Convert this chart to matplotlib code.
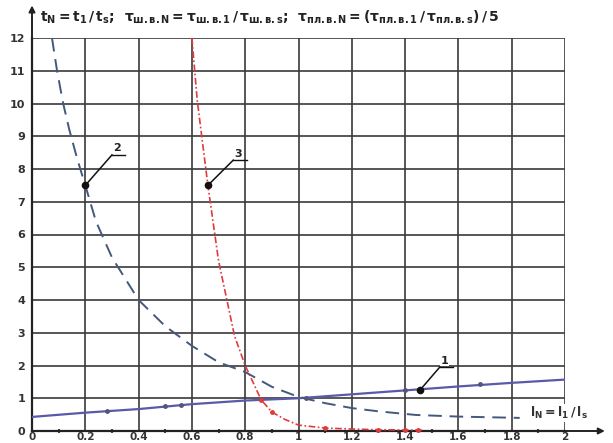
import numpy as np
from matplotlib import pyplot as plt

# curve 1 (solid)
c1_x = [0.0, 0.2, 0.4, 0.6, 0.8, 1.0, 1.2, 1.4, 1.6, 1.8, 2.0]
c1_y = [0.43, 0.56, 0.67, 0.82, 0.93, 1.0, 1.12, 1.24, 1.36, 1.47, 1.57]
c1_mx = [0.28, 0.5, 0.56, 1.03, 1.4, 1.68]
c1_my = [0.62, 0.75, 0.8, 1.01, 1.24, 1.43]

# curve 2 (dashed)
c2_x = [0.075, 0.094, 0.117, 0.14, 0.17, 0.2, 0.24, 0.3, 0.4, 0.5, 0.6,
        0.7, 0.8, 0.9, 1.0, 1.1, 1.2, 1.3, 1.44, 1.6, 1.83]
c2_y = [12, 11, 10, 9.2, 8.3, 7.5, 6.4, 5.3, 4.0, 3.2, 2.6,
        2.1, 1.8, 1.35, 1.04, 0.85, 0.70, 0.6, 0.49, 0.44, 0.40]

# curve 3 (dash-dot, red)
c3_x = [0.6, 0.62, 0.66, 0.7, 0.76, 0.8, 0.86, 0.9, 0.95, 1.0, 1.1, 1.2, 1.3, 1.4, 1.47]
c3_y = [12, 10.1, 7.5, 5.2, 2.9, 2.0, 0.95, 0.58, 0.35, 0.18, 0.09, 0.06, 0.04, 0.03, 0.03]
c3_mx = [0.86, 0.9, 1.1, 1.3, 1.4, 1.45]
c3_my = [0.95, 0.58, 0.09, 0.04, 0.03, 0.03]

# callouts: point, leader end, label
callouts = [((0.2, 7.5), (0.30, 8.43), "2"),
            ((0.66, 7.5), (0.755, 8.27), "3"),
            ((1.456, 1.25), (1.53, 1.95), "1")]

x_ticks = np.arange(0, 2.01, 0.2)
x_labels = ["0", "0.2", "0.4", "0.6", "0.8", "1", "1.2", "1.4", "1.6", "1.8", "2"]
y_ticks = np.arange(0, 13, 1)

plt.rcParams['mathtext.fontset'] = 'dejavusans'
plt.rcParams['mathtext.default'] = 'bf'

fig = plt.figure(figsize=(6.13, 4.43), dpi=100)
ax = fig.add_axes([32/613, 12/443, 533/613, 393/443])
ax.set_xlim(0, 2)
ax.set_ylim(0, 12)

grid_c = '#3a3a3a'
for x in x_ticks[1:]:
    ax.axvline(x, color=grid_c, lw=1.2, zorder=1)
for y in y_ticks[1:]:
    ax.axhline(y, color=grid_c, lw=1.2, zorder=1)

for s in ['top', 'right']:
    ax.spines[s].set_visible(False)
for s in ['left', 'bottom']:
    ax.spines[s].set_linewidth(1.6)
    ax.spines[s].set_color('#222222')

ax.set_xticks(x_ticks)
ax.set_xticklabels(x_labels)
ax.set_yticks(y_ticks)
ax.set_xticks(np.arange(0.1, 2.0, 0.2), minor=True)
ax.tick_params(axis='both', length=0, labelsize=8, labelcolor='#333333', pad=5)
ax.tick_params(axis='x', which='major', labelsize=7.5, pad=1)
ax.tick_params(axis='x', which='minor', length=3, width=1.5, direction='inout', color='#444444')
for t in ax.get_xticklabels() + ax.get_yticklabels():
    t.set_fontweight('bold')

# axis arrows
ax.annotate('', xy=(0, 13.08), xytext=(0, 11.9),
            arrowprops=dict(arrowstyle='-|>', color='#222222', lw=1.4,
                            mutation_scale=9), annotation_clip=False)
ax.annotate('', xy=(2.16, 0), xytext=(1.95, 0),
            arrowprops=dict(arrowstyle='-|>', color='#222222', lw=1.4,
                            mutation_scale=9), annotation_clip=False)

ax.plot(c1_x, c1_y, color='#5a5aa8', lw=1.6, zorder=3)
ax.plot(c1_mx, c1_my, 'o', color='#555577', ms=2.5, zorder=4)
ax.plot(c2_x, c2_y, color='#44587e', lw=1.4, ls=(0, (7, 4)), zorder=3, clip_on=False)
ax.plot(c3_x, c3_y, color='#e03a3a', lw=1.2, ls=(0, (4, 1.5, 1, 1.5)), zorder=3, clip_on=False)
ax.plot(c3_mx, c3_my, 'o', color='#e03a3a', ms=2.5, zorder=4, clip_on=False)

for (px, py), (lx, ly), lab in callouts:
    ax.plot([px, lx], [py, ly], color='#111111', lw=1.1, zorder=5)
    ax.plot([lx, lx + 0.05], [ly, ly], color='#111111', lw=1.0, zorder=5)
    ax.plot(px, py, 'o', color='#111111', ms=4.5, zorder=6)
    ax.text(lx + 0.005, ly + 0.05, lab, fontsize=8, fontweight='bold',
            ha='left', va='bottom', color='#222222', zorder=6,
            bbox=dict(facecolor='white', edgecolor='none', pad=0.5))

ax.text(1.87, 0.55, r"$l_N = l_1\,/\,l_s$", fontsize=9, color='#333333',
        ha='left', va='center', zorder=6,
        bbox=dict(facecolor='white', edgecolor='none', pad=0.5))

title = (r"$t_N = t_1\,/\,t_s$;  "
         r"$\tau_{ш.в.N} = \tau_{ш.в.1}\,/\,\tau_{ш.в.s}$;  "
         r"$\tau_{пл.в.N} = (\tau_{пл.в.1}\,/\,\tau_{пл.в.s})\,/\,5$")
fig.text(40/613, 1 - 17/443, title, fontsize=10, color='#222222',
         ha='left', va='center', fontweight='bold')

plt.savefig('out.png', dpi=100)
